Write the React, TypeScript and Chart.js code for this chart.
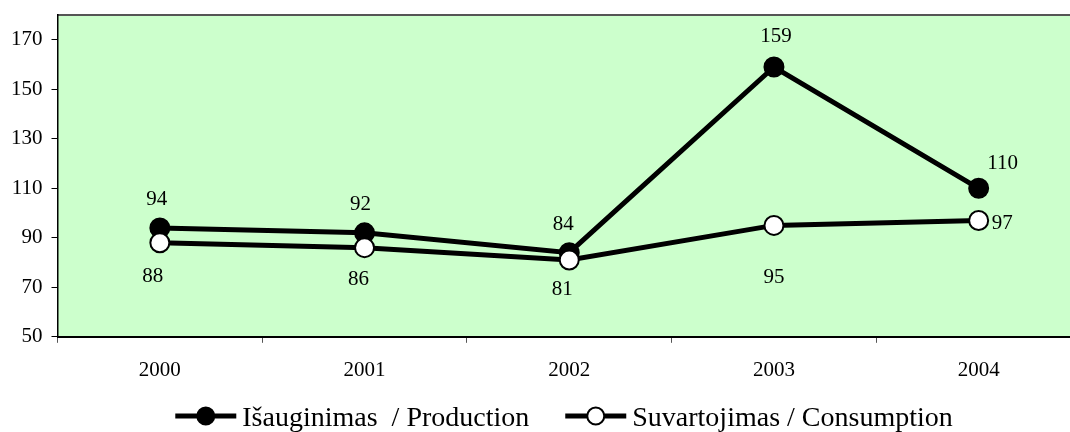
import React, { useEffect, useRef } from "react";
import { Chart, registerables } from "chart.js";

Chart.register(...registerables);

// ---- data ----
const categories = ["2000", "2001", "2002", "2003", "2004"];
const productionValues = [94, 92, 84, 159, 110];
const consumptionValues = [88, 86, 81, 95, 97];
const yTickValues = [50, 70, 90, 110, 130, 150, 170];
const yMin = 50;
const yMax = 180;
const productionLabel = "Išauginimas  / Production";
const consumptionLabel = "Suvartojimas / Consumption";

// ---- label placement (offset of each value label from its point, px) ----
const productionLabelOffsets = [[-3, -28], [-4, -28], [-6, -28], [2, -30], [24, -25]];
const productionLabelAlign = ["center", "center", "center", "center", "center"];
const consumptionLabelOffsets = [[-7, 34], [-6, 32], [-7, 29], [0, 52], [13, 3]];
const consumptionLabelAlign = ["center", "center", "center", "center", "left"];

const FONT = "'Liberation Serif', 'Times New Roman', serif";
const CANVAS_W = 1100;
const CANVAS_H = 432;

const plotBgPlugin = {
  id: "plotBg",
  beforeDraw(chart: any) {
    const { ctx, chartArea: a } = chart;
    ctx.save();
    ctx.fillStyle = "#CCFFCC";
    ctx.fillRect(a.left, a.top, a.right - a.left, a.bottom - a.top);
    ctx.strokeStyle = "#555555";
    ctx.lineWidth = 2;
    ctx.beginPath();
    ctx.moveTo(a.left, a.top);
    ctx.lineTo(a.right, a.top);
    ctx.stroke();
    ctx.restore();
  },
};

const valueLabelPlugin = {
  id: "valueLabels",
  afterDatasetsDraw(chart: any) {
    const { ctx } = chart;
    ctx.save();
    ctx.font = `21px ${FONT}`;
    ctx.fillStyle = "#000";
    ctx.textBaseline = "middle";
    chart.data.datasets.forEach((ds: any, di: number) => {
      const meta = chart.getDatasetMeta(di);
      const offsets = ds.labelOffsets as number[][];
      const aligns = ds.labelAlign as string[];
      meta.data.forEach((pt: any, i: number) => {
        const [dx, dy] = offsets[i];
        ctx.textAlign = aligns[i] as CanvasTextAlign;
        ctx.fillText(String(ds.data[i]), pt.x + dx, pt.y + dy);
      });
    });
    ctx.restore();
  },
};

const legendPlugin = {
  id: "lineLegend",
  afterDraw(chart: any) {
    const { ctx } = chart;
    const markerW = 61;
    const gap = 6;
    const itemGap = 36;
    const centerShift = 14;
    ctx.save();
    ctx.font = `28px ${FONT}`;
    const items = chart.data.datasets
      .slice()
      .sort((a: any, b: any) => a.legendIndex - b.legendIndex);
    const widths = items.map((d: any) => ctx.measureText(d.label).width);
    const total =
      items.length * (markerW + gap) +
      widths.reduce((s: number, w: number) => s + w, 0) +
      itemGap * (items.length - 1);
    let x = chart.width / 2 - total / 2 + centerShift;
    const y = 416;
    items.forEach((d: any, i: number) => {
      ctx.strokeStyle = "#000";
      ctx.lineWidth = 5;
      ctx.beginPath();
      ctx.moveTo(x, y);
      ctx.lineTo(x + markerW, y);
      ctx.stroke();
      ctx.beginPath();
      ctx.arc(x + markerW / 2, y, 8.5, 0, Math.PI * 2);
      ctx.fillStyle = d.pointBackgroundColor;
      ctx.fill();
      ctx.lineWidth = 2;
      ctx.stroke();
      ctx.fillStyle = "#000";
      ctx.textAlign = "left";
      ctx.textBaseline = "alphabetic";
      ctx.fillText(d.label, x + markerW + gap, y + 10);
      x += markerW + gap + widths[i] + itemGap;
    });
    ctx.restore();
  },
};

export default function App() {
  const canvasRef = useRef<HTMLCanvasElement | null>(null);

  useEffect(() => {
    if (!canvasRef.current) return;
    const chart = new Chart(canvasRef.current, {
      type: "line",
      data: {
        labels: categories,
        datasets: [
          {
            label: consumptionLabel,
            data: consumptionValues,
            borderColor: "#000",
            borderWidth: 5,
            pointRadius: 9.5,
            pointHoverRadius: 9.5,
            pointBorderWidth: 2,
            pointBackgroundColor: "#ffffff",
            pointBorderColor: "#000",
            tension: 0,
            order: 0,
            labelOffsets: consumptionLabelOffsets,
            labelAlign: consumptionLabelAlign,
            legendIndex: 1,
          } as any,
          {
            label: productionLabel,
            data: productionValues,
            borderColor: "#000",
            borderWidth: 5,
            pointRadius: 9.5,
            pointHoverRadius: 9.5,
            pointBorderWidth: 2,
            pointBackgroundColor: "#000000",
            pointBorderColor: "#000",
            tension: 0,
            order: 1,
            labelOffsets: productionLabelOffsets,
            labelAlign: productionLabelAlign,
            legendIndex: 0,
          } as any,
        ],
      },
      options: {
        animation: false,
        responsive: false,
        devicePixelRatio: 1,
        layout: { padding: { left: 2, top: 15, right: 19, bottom: 34 } },
        plugins: {
          legend: { display: false },
          tooltip: { enabled: false },
        },
        scales: {
          x: {
            type: "category",
            offset: true,
            grid: {
              offset: true,
              drawOnChartArea: false,
              drawTicks: true,
              tickLength: 6,
              color: "#555",
              lineWidth: 1,
            },
            border: { color: "#000", width: 2 },
            ticks: {
              color: "#000",
              font: { family: FONT, size: 21 },
              padding: 15,
              maxRotation: 0,
              autoSkip: false,
            },
          },
          y: {
            min: yMin,
            max: yMax,
            afterBuildTicks: (scale: any) => {
              scale.ticks = yTickValues.map((v) => ({ value: v }));
            },
            afterFit: (scale: any) => {
              scale.paddingTop = 0;
              scale.paddingBottom = 0;
            },
            grid: {
              drawOnChartArea: false,
              drawTicks: true,
              tickLength: 6,
              color: "#000",
            },
            border: { color: "#000", width: 1.5 },
            ticks: {
              color: "#000",
              font: { family: FONT, size: 21 },
              padding: 9,
            },
          },
        },
      },
      plugins: [plotBgPlugin, valueLabelPlugin, legendPlugin],
    });
    return () => chart.destroy();
  }, []);

  return (
    <div
      style={{
        position: "fixed",
        left: 0,
        top: 0,
        width: 1070,
        height: 432,
        overflow: "hidden",
        background: "#fff",
      }}
    >
      <canvas
        ref={canvasRef}
        width={CANVAS_W}
        height={CANVAS_H}
        style={{ display: "block", width: CANVAS_W, height: CANVAS_H }}
      />
    </div>
  );
}
